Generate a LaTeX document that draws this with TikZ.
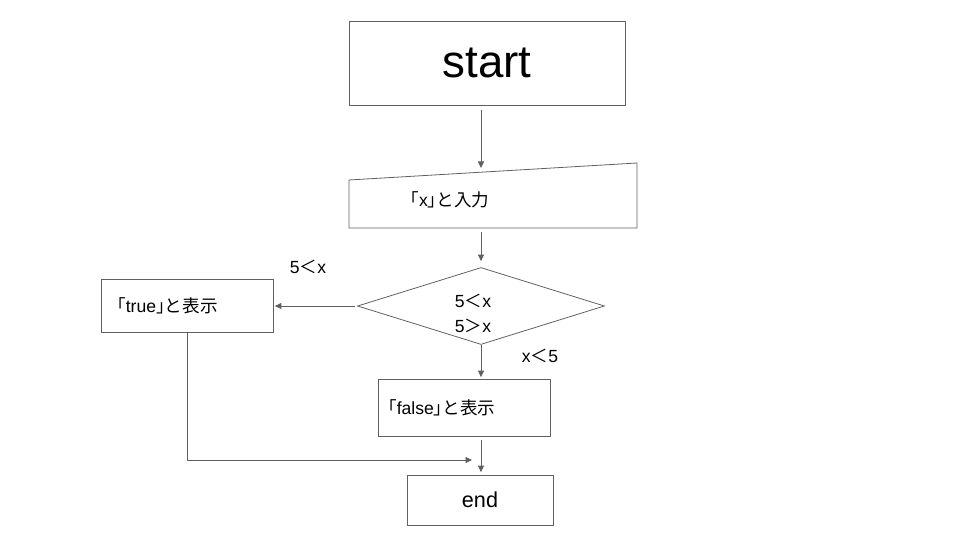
\documentclass[tikz,border=0pt]{standalone}
\usepackage{fontspec}
\setmainfont{Liberation Sans}
\newfontfamily\jp[RawFeature=+halt]{Noto Sans CJK JP}
\newfontfamily\jpsym{Noto Sans CJK JP}
\usetikzlibrary{arrows.meta,shapes.geometric}
\definecolor{linegray}{HTML}{606060}
\begin{document}
\begin{tikzpicture}[x=0.02cm, y=-0.02cm,
    every node/.style={font=\fontsize{10}{14.2}\selectfont},
    box/.style={draw=linegray, line width=0.45pt, inner sep=0pt},
    arr/.style={draw=linegray, line width=0.45pt, -{Triangle[length=1.3mm, width=1.2mm]}}]
  \useasboundingbox (0,0) rectangle (960,540);
  \coordinate (spine) at (481,0);
  % cajas
  \node[box, minimum width=5.52cm, minimum height=1.68cm, font=\fontsize{26}{30}\selectfont] (start) at (487,63) {start};
  \draw[draw=linegray, line width=0.45pt] (349,180) -- (637,163) -- (637,228) -- (349,228) -- cycle;
  \coordinate (inTop) at (481,172);
  \coordinate (inBot) at (481,228);
  \node[anchor=west, inner sep=0pt] (inp) at (410,200) {{\jp 「}x{\jp 」と入力}};
  \node[box, diamond, minimum width=4.94cm, minimum height=1.54cm] (cond) at (481,306) {};
  \node[align=center, inner sep=0pt] (condtext) at (473,313.5) {5{\jpsym ＜}x\\5{\jpsym ＞}x};
  \node[box, text width=2.8cm, inner xsep=0.32cm, minimum height=1.06cm, align=left] (true) at (187,305.5) {{\jp 「}true{\jp 」と表示}};
  \node[box, text width=3.04cm, inner xsep=0.2cm, minimum height=1.14cm, align=left] (false) at (464,407.5) {{\jp 「}false{\jp 」と表示}};
  \node[box, minimum width=2.92cm, minimum height=1.0cm, font=\fontsize{12.3}{14}\selectfont] (end) at (480,500) {end};
  % etiquetas
  \node (lt) at (308,267) {5{\jpsym ＜}x};
  \node (lf) at (540,356) {x{\jpsym ＜}5};
  % flechas
  \coordinate (join) at (472,460);
  \draw[arr, shorten <=1mm, shorten >=0.8mm] (start.south -| spine) -- (inTop);
  \draw[arr, shorten <=0.8mm, shorten >=1.2mm] (inBot) -- (cond.north);
  \draw[arr, shorten <=0.5mm, shorten >=0.3mm] (cond.west) -- (cond.west -| true.east);
  \draw[arr, shorten >=0.3mm] (cond.south) -- (false.north -| spine);
  \draw[arr] (true.south) |- (join);
  \draw[arr, shorten <=0.8mm, shorten >=0.5mm] (false.south -| spine) -- (end.north -| spine);
\end{tikzpicture}
\end{document}
